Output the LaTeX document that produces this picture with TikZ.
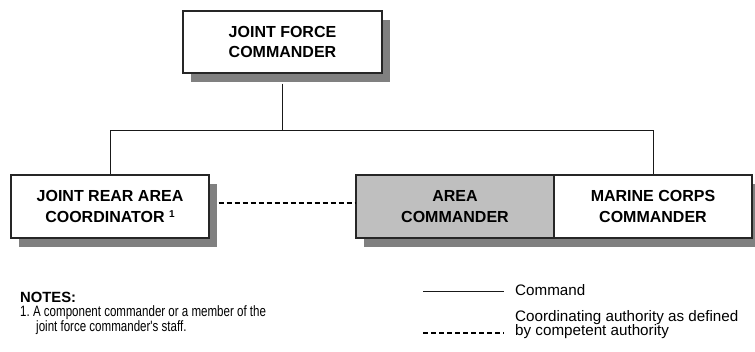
\documentclass[tikz,border=0pt]{standalone}
\usepackage{fontspec}
\setmainfont{Liberation Sans}
\newfontfamily\narrowfont[FakeStretch=0.77]{Liberation Sans}
\usetikzlibrary{shadows}

\tikzset{
  orgbox/.style={draw=black!85, line width=1.2pt, fill=white,
    minimum width=198pt, minimum height=63pt, inner sep=0pt, align=center,
    font=\fontsize{16}{20.5}\selectfont\bfseries,
    general shadow={shadow xshift=8pt, shadow yshift=-9pt, fill=black!50, opacity=1}},
  shaded/.style={fill=black!25},
  cmdline/.style={draw=black!90, line width=1pt},
  coordline/.style={draw=black, line width=2pt, dash pattern=on 5pt off 3pt},
  legendtext/.style={anchor=base west, inner sep=0pt, font=\fontsize{15.2}{14.5}\selectfont},
  notehead/.style={anchor=base west, inner sep=0pt, font=\fontsize{14.8}{14}\selectfont\bfseries},
  notetext/.style={anchor=north west, inner sep=0pt, align=left,
    font=\narrowfont\fontsize{15}{12.8}\selectfont}
}

\begin{document}
\begin{tikzpicture}[x=1pt, y=-1pt]
  \useasboundingbox (0,0) rectangle (755,352);

  % height of the horizontal command bus
  \coordinate (bus) at (0,130.5);

  % organisation boxes
  \node[orgbox, minimum width=199pt, minimum height=62pt] (jfc) at (282.5,42) {JOINT FORCE\\COMMANDER};
  \node[orgbox] (jrac) at (110,206.5) {JOINT REAR AREA\\COORDINATOR \raisebox{0.55ex}{\fontsize{10}{10}\selectfont 1}};
  \node[orgbox, shaded] (area) at (455,206.5) {AREA\\COMMANDER};
  \node[orgbox] (mcc) at (653,206.5) {MARINE CORPS\\COMMANDER};

  % command lines
  \draw[cmdline] (jfc.south) ++(0,10) -- (jfc.south |- bus);
  \draw[cmdline] (jrac.north) -- (jrac.north |- bus) -- (mcc.north |- bus) -- (mcc.north);

  % coordinating authority link
  \path (jrac.east) ++(9,-3.5) coordinate (dl);
  \draw[coordline] (dl) -- (dl -| area.west);

  % notes
  \node[notehead] (notes) at (20,303) {NOTES:};
  \node[notetext] (note1) at (20,305.5) {1.\ A component commander or a member of the\\\hspace*{16pt}joint force commander's staff.};

  % legend
  \coordinate (lsa) at (423,292);
  \coordinate (lsb) at (504,292);
  \coordinate (lda) at (423,333);
  \coordinate (ldb) at (504,333);
  \draw[cmdline] (lsa) -- (lsb);
  \draw[coordline] (lda) -- (ldb);
  \node[legendtext] (lcmd) at (515,296) {Command};
  \node[legendtext] (lco1) at (515,321.5) {Coordinating authority as defined};
  \node[legendtext] (lco2) at (515,336) {by competent authority};
\end{tikzpicture}
\end{document}
